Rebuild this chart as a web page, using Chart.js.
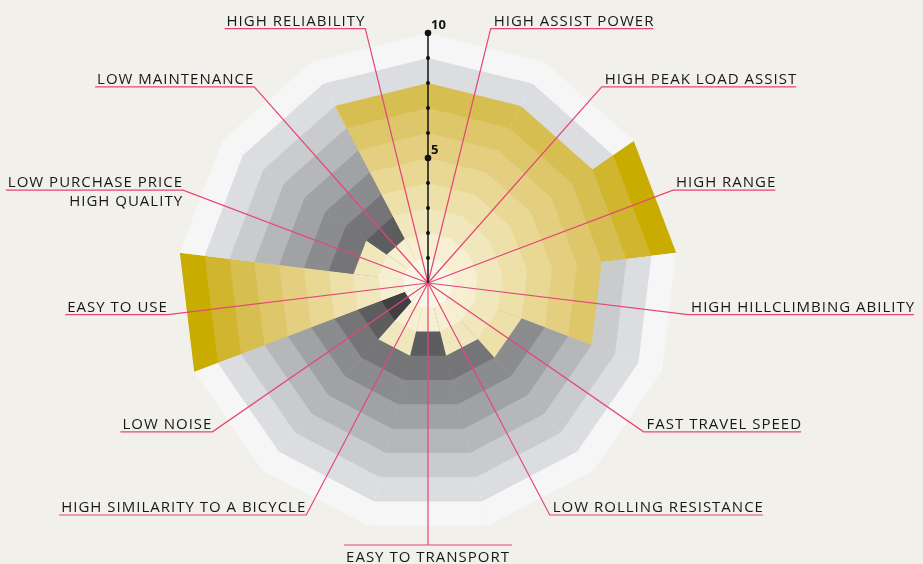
<!DOCTYPE html>
<html>
<head>
  <meta charset="utf-8">
  <title>E-bike profile</title>
  <script src="https://cdn.jsdelivr.net/npm/chart.js"></script>
  <style>
    html, body {
      margin: 0;
      padding: 0;
      background: #f1f0ea;
    }
    #wrap {
      width: 923px;
      height: 564px;
      position: relative;
    }
  </style>
</head>
<body>
  <div id="wrap"><canvas id="chart"></canvas></div>

  <script>
    // categories clockwise from the top axis
    const categories = [
      ['HIGH ASSIST POWER'],
      ['HIGH PEAK LOAD ASSIST'],
      ['HIGH RANGE'],
      ['HIGH HILLCLIMBING ABILITY'],
      ['FAST TRAVEL SPEED'],
      ['LOW ROLLING RESISTANCE'],
      ['EASY TO TRANSPORT'],
      ['HIGH SIMILARITY TO A BICYCLE'],
      ['LOW NOISE'],
      ['EASY TO USE'],
      ['LOW PURCHASE PRICE', 'HIGH QUALITY'],
      ['LOW MAINTENANCE'],
      ['HIGH RELIABILITY']
    ];
    const scores = [8, 8, 10, 7, 4, 3, 2, 3, 1, 10, 3, 2, 8];
    const levels = [1, 2, 3, 4, 5, 6, 7, 8, 9, 10];
    const tickLabels = { 5: '5', 10: '10' };

    const goldShades = ['#fbf7e7', '#f6efd2', '#f1e7bd', '#ede0a9', '#e8d894',
                        '#e3cf7f', '#ddc76a', '#d7be50', '#d0b52e', '#c9ac00'];
    const greyShades = ['#2e2e30', '#404042', '#5d5d5f', '#757577', '#8b8c8e',
                        '#a1a2a4', '#b6b7b9', '#cacbcd', '#dcdde0', '#f6f6f6'];
    const pink = '#e5457a';

    // one dataset per ring, smallest ring first so it is painted on top
    const datasets = levels.map((lvl, i) => ({
      label: 'level ' + lvl,
      data: scores.map(() => lvl),
      backgroundColor: scores.map(s => s >= lvl ? goldShades[i] : greyShades[i]),
      borderWidth: 0,
      circular: false
    }));

    const overlay = {
      id: 'overlay',
      afterDatasetsDraw(chart) {
        const ctx = chart.ctx;
        const r = chart.scales.r;
        const cx = r.xCenter, cy = r.yCenter;
        const arcs = chart.getDatasetMeta(0).data;
        const labelR = r.getDistanceFromCenterForValue(10) + 12;

        ctx.save();
        ctx.font = '15px "Open Sans"';
        ctx.letterSpacing = '1px';
        ctx.lineWidth = 1.2;
        ctx.strokeStyle = pink;
        ctx.fillStyle = '#181818';
        ctx.textBaseline = 'alphabetic';

        categories.forEach((lines, i) => {
          const a = (arcs[i].startAngle + arcs[i].endAngle) / 2;
          const ex = cx + Math.cos(a) * labelR;
          const ey = cy + Math.sin(a) * labelR;
          const w = Math.max(...lines.map(t => ctx.measureText(t).width));
          let x0, x1, tx, below = false;
          if (Math.abs(ex - cx) < 2) {
            x0 = ex - w / 2 - 2; x1 = ex + w / 2 + 2; tx = ex;
            ctx.textAlign = 'center';
            below = true;
          } else if (ex < cx) {
            x0 = ex - w - 2; x1 = ex; tx = ex;
            ctx.textAlign = 'right';
          } else {
            x0 = ex; x1 = ex + w + 2; tx = ex + 3;
            ctx.textAlign = 'left';
          }
          ctx.beginPath();
          ctx.moveTo(cx, cy);
          ctx.lineTo(ex, ey);
          ctx.lineTo(x1 > ex + 1 ? x1 : x0, ey);
          if (x1 > ex + 1 && x0 < ex - 1) { ctx.moveTo(ex, ey); ctx.lineTo(x0, ey); }
          ctx.stroke();

          lines.forEach((t, j) => {
            let y;
            if (below) y = ey + 17 + j * 19;
            else y = j === 0 ? ey - 3 : ey + 16 + (j - 1) * 19;
            ctx.fillText(t, tx, y);
          });
        });

        // value axis on the top boundary
        const top = r.getPointPositionForValue(0, 10);
        ctx.strokeStyle = '#111';
        ctx.fillStyle = '#111';
        ctx.lineWidth = 1.5;
        ctx.beginPath();
        ctx.moveTo(cx, cy);
        ctx.lineTo(top.x, top.y);
        ctx.stroke();
        ctx.font = 'bold 13px "Open Sans"';
        ctx.letterSpacing = '0px';
        ctx.textAlign = 'left';
        levels.forEach(v => {
          const p = r.getPointPositionForValue(0, v);
          const big = tickLabels[v];
          ctx.beginPath();
          ctx.arc(p.x, p.y, big ? 3.3 : 2, 0, Math.PI * 2);
          ctx.fill();
          if (big) ctx.fillText(big, p.x + 3, p.y - 4);
        });
        ctx.restore();
      }
    };

    new Chart(document.getElementById('chart'), {
      type: 'polarArea',
      data: {
        labels: categories.map(c => c.join(' ')),
        datasets: datasets
      },
      options: {
        responsive: true,
        maintainAspectRatio: false,
        animation: false,
        layout: { padding: { left: 178, right: 245, top: 33, bottom: 31 } },
        elements: { arc: { circular: false, borderWidth: 0 } },
        plugins: {
          legend: { display: false },
          tooltip: { enabled: false }
        },
        scales: {
          r: {
            min: 0,
            max: 10,
            startAngle: 0,
            ticks: { display: false },
            grid: { display: false },
            angleLines: { display: false },
            pointLabels: { display: false }
          }
        }
      },
      plugins: [overlay]
    });
  </script>
</body>
</html>
